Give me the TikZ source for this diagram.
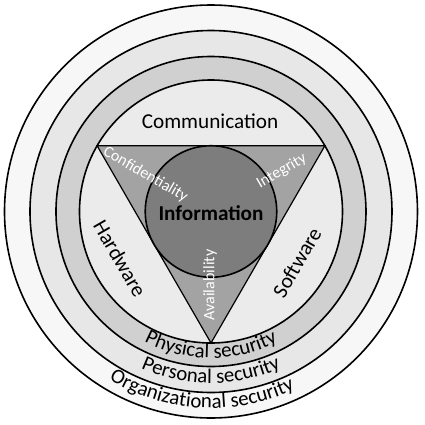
\documentclass[tikz,border=0pt]{standalone}
\usepackage{fontspec}
\setmainfont{Carlito}
\usepackage{tikz}
\usetikzlibrary{
    decorations.text,
    positioning
}
\definecolor{orgfill}{gray}{0.97}
\definecolor{personfill}{gray}{0.905}
\definecolor{physfill}{gray}{0.815}
\definecolor{innerfill}{gray}{0.92}
\definecolor{trifill}{gray}{0.64}
\definecolor{infofill}{gray}{0.49}
\newcommand{\ringfont}{\fontsize{10.4}{12}\selectfont}
\tikzset{
    ring/.style={draw=black, line width=0.8pt},
    area/.style={font=\fontsize{10.6}{12}\selectfont},
    goal/.style={font=\fontsize{8}{9}\selectfont, text=white},
    arctext/.style={decorate, decoration={text along path,
        text align=center, text={|\ringfont|#1}}}
}
\begin{document}
\begin{tikzpicture}[x=0.5pt, y=0.5pt]
    \useasboundingbox (-211,-213.5) rectangle (214,211.5);
    % security rings
    \foreach \r/\c in {206.5/orgfill,181/personfill,155/physfill,131.5/innerfill}{
        \draw[ring, fill=\c] (0,0) circle[radius=\r];
    }
    % triangle and core
    \draw[line width=0.6pt, fill=trifill] (150:131.5) -- (30:131.5) -- (270:131.5) -- cycle;
    \draw[ring, fill=infofill] (0,0) circle[radius=65.75];
    \node[area, font=\fontsize{10.6}{12}\selectfont\bfseries, anchor=base] (info) at (0,-9) {Information};
    \node[area, anchor=base] (comm) at (-1,83.5) {Communication};
    \node[area, rotate=-60] (hard) at (-91,-47) {Hardware};
    \node[area, rotate=60] (soft) at (86,-51) {Software};
    \node[goal, rotate=-30] (conf) at (-65.5,37) {Confidentiality};
    \node[goal, rotate=30] (integ) at (70.7,40.5) {Integrity};
    \node[goal, rotate=90] (avail) at (-1,-73.5) {Availability};
    % ring labels
    \path[arctext={Physical security}] (200:146.5) arc[start angle=200, end angle=340, radius=146.5];
    \path[arctext={Personal security}] (200:171.5) arc[start angle=200, end angle=340, radius=171.5];
    \path[arctext={Organizational security}] (194:196.5) arc[start angle=194, end angle=340, radius=196.5];
\end{tikzpicture}
\end{document}
